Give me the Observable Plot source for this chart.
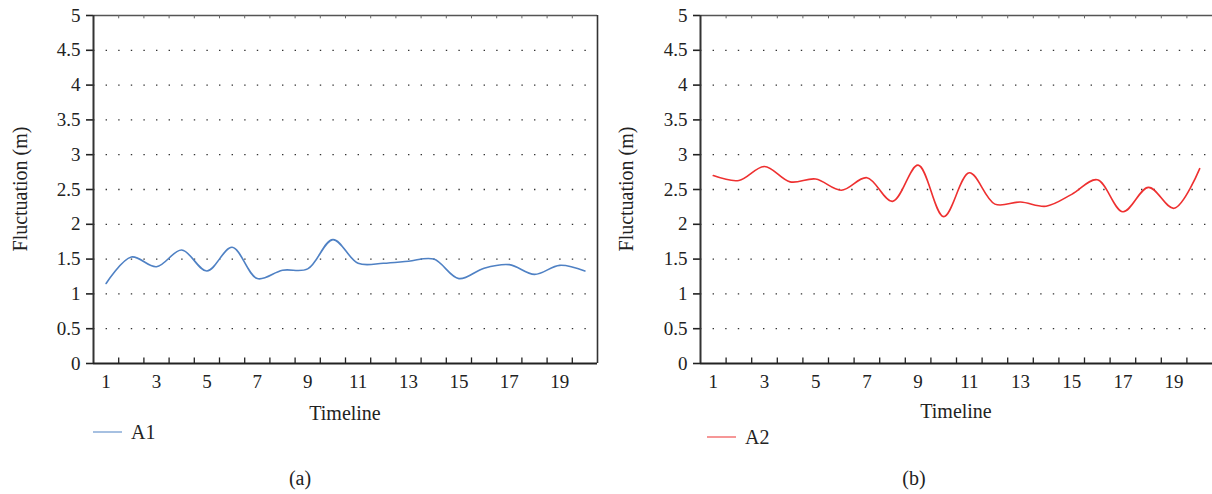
<!DOCTYPE html>
<html><head><meta charset="utf-8">
<script src="https://cdn.jsdelivr.net/npm/d3@7"></script>
<script src="https://cdn.jsdelivr.net/npm/@observablehq/plot@0.6"></script>
<style>
html,body{margin:0;padding:0;background:#fff;}
#wrap{position:relative;width:1212px;height:494px;overflow:hidden;font-family:'Liberation Serif','DejaVu Serif','Noto Serif','Noto Serif CJK SC','Tinos','FreeSerif','Times New Roman',Times,serif;color:#222;}
#wrap svg text{font-family:'Liberation Serif','DejaVu Serif','Noto Serif','Noto Serif CJK SC','Tinos','FreeSerif','Times New Roman',Times,serif;}
.panel{position:absolute;top:0;}
.lbl{position:absolute;transform:translate(-50%,-50%);white-space:nowrap;font-size:20px;}
.ylbl{position:absolute;transform:translate(-50%,-50%) rotate(-90deg);white-space:nowrap;font-size:20px;}
.leg{position:absolute;display:flex;align-items:center;font-size:20px;transform:translateY(-50%);}
.leg span.sw{display:inline-block;width:29px;height:0;border-top:1.6px solid;margin-right:9px;}
</style></head>
<body><div id="wrap"></div>
<script>
const timeline = [1,2,3,4,5,6,7,8,9,10,11,12,13,14,15,16,17,18,19,20];
const seriesA1 = [1.15,1.53,1.39,1.63,1.33,1.67,1.22,1.34,1.36,1.78,1.44,1.44,1.47,1.50,1.22,1.37,1.42,1.28,1.41,1.33];
const seriesA2 = [2.70,2.63,2.83,2.61,2.65,2.49,2.67,2.33,2.85,2.11,2.74,2.29,2.32,2.26,2.43,2.64,2.18,2.53,2.23,2.80];
const xTickLabels = [1,3,5,7,9,11,13,15,17,19];
const yTicks = [0,0.5,1,1.5,2,2.5,3,3.5,4,4.5,5];
const yGrid = [0.5,1,1.5,2,2.5,3,3.5,4,4.5];
const bounds = timeline.slice(0,-1).map(d => d + 0.5);
const tickLen = 0.08; // inward tick length, in y units

const wrap = document.getElementById("wrap");

function panel({left, marginLeft, marginRight, values, name, color, rightBorder, xLabelY, legX, legY, caption, capX}) {
  const data = timeline.map((t,i) => ({t, v: values[i]}));
  const chart = Plot.plot({
    width: 606, height: 430,
    marginTop: 15, marginBottom: 67, marginLeft, marginRight,
    style: {fontSize: "19px", color: "#222", background: "transparent"},
    x: {type: "linear", domain: [0.5, 20.5]},
    y: {domain: [0, 5]},
    marks: [
      Plot.ruleY(yGrid, {stroke: "#333", strokeDasharray: "1.4,11.2", strokeWidth: 1.3}),
      Plot.ruleY([5], {stroke: "#555", strokeWidth: 1.6}),
      Plot.ruleX(bounds, {y1: 5 - tickLen * 0.6, y2: 5, stroke: "#666", strokeWidth: 1}),
      rightBorder ? Plot.ruleX([20.5], {stroke: "#333", strokeWidth: 1.6}) : null,
      Plot.axisY({ticks: yTicks, tickFormat: d => String(d), tickSize: 7, tickPadding: 6, strokeWidth: 1.6, label: null, fontSize: 19}),
      Plot.axisX({ticks: xTickLabels, tickSize: 0, tickPadding: 11, tickFormat: d => String(d), label: null, fontSize: 19}),
      Plot.ruleX(bounds, {y1: 0, y2: tickLen, stroke: "#222", strokeWidth: 1.3}),
      Plot.ruleX([0.5], {stroke: "#333", strokeWidth: 2}),
      Plot.ruleY([0], {stroke: "#222", strokeWidth: 2}),
      Plot.line(data, {x: "t", y: "v", curve: "catmull-rom", stroke: color, strokeWidth: 1.6})
    ]
  });
  const div = document.createElement("div");
  div.className = "panel";
  div.style.left = left + "px";
  div.appendChild(chart);
  wrap.appendChild(div);

  const yl = document.createElement("div");
  yl.className = "ylbl"; yl.textContent = "Fluctuation (m)";
  yl.style.left = (left + 20) + "px"; yl.style.top = "189px";
  wrap.appendChild(yl);

  const xl = document.createElement("div");
  xl.className = "lbl"; xl.textContent = "Timeline";
  xl.style.left = (left + marginLeft + (606 - marginLeft - marginRight)/2) + "px"; xl.style.top = xLabelY + "px";
  wrap.appendChild(xl);

  const lg = document.createElement("div");
  lg.className = "leg";
  lg.style.left = legX + "px"; lg.style.top = legY + "px";
  lg.innerHTML = `<span class="sw" style="border-color:${color}"></span><span>${name}</span>`;
  wrap.appendChild(lg);

  const cp = document.createElement("div");
  cp.className = "lbl"; cp.textContent = caption;
  cp.style.left = capX + "px"; cp.style.top = "478px";
  wrap.appendChild(cp);
}

panel({left: 0, marginLeft: 93, marginRight: 9, values: seriesA1, name: "A1", color: "#4f81c4", rightBorder: true, xLabelY: 413, legX: 93, legY: 432, caption: "(a)", capX: 300});
panel({left: 606, marginLeft: 94, marginRight: 0, values: seriesA2, name: "A2", color: "#ee3030", rightBorder: false, xLabelY: 411, legX: 707, legY: 437, caption: "(b)", capX: 914});
</script></body></html>
